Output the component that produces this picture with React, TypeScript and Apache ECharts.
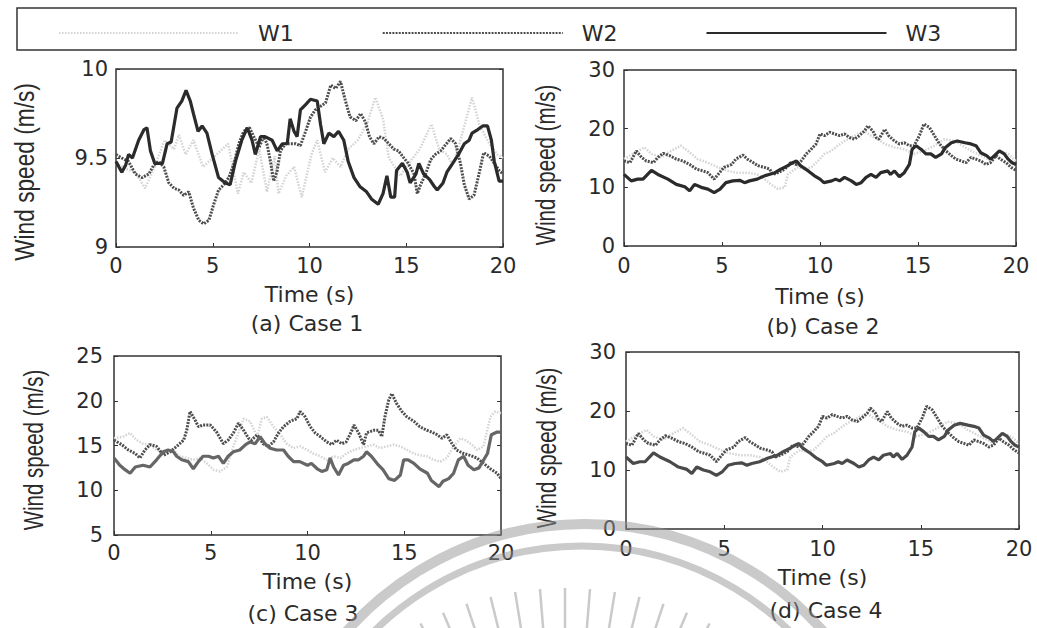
import React, { useEffect, useRef } from "react";
import * as echarts from "echarts";

// ---------- data: [time (s), wind speed (m/s)] ----------
const case1W1: number[][] = [
  [0, 9.47], [0.5, 9.44], [1, 9.42], [1.5, 9.33], [2, 9.45], [2.5, 9.6], [3, 9.55], [3.25, 9.63], [3.6, 9.52],
  [4, 9.6], [4.5, 9.45], [5, 9.5], [5.5, 9.55], [5.8, 9.58], [6.3, 9.3], [6.6, 9.42], [7, 9.36], [7.4, 9.55],
  [7.8, 9.31], [8.2, 9.51], [8.4, 9.3], [8.8, 9.4], [9.2, 9.45], [9.6, 9.28], [10.1, 9.52], [10.4, 9.6],
  [10.8, 9.42], [11.2, 9.5], [11.6, 9.45], [12, 9.55], [12.5, 9.6], [13, 9.7], [13.4, 9.84], [13.8, 9.72],
  [14.1, 9.5], [14.7, 9.4], [15.2, 9.48], [15.7, 9.55], [16.3, 9.69], [16.7, 9.55], [17.1, 9.52], [17.4, 9.46],
  [17.8, 9.6], [18.4, 9.84], [18.8, 9.68], [19.3, 9.58], [19.7, 9.52], [20, 9.5],
];
const case1W2: number[][] = [
  [0, 9.52], [0.3, 9.5], [0.65, 9.48], [1.0, 9.41], [1.35, 9.39], [1.7, 9.41], [1.95, 9.46], [2.2, 9.48],
  [2.47, 9.45], [2.73, 9.36], [3.0, 9.33], [3.25, 9.32], [3.5, 9.29], [3.76, 9.31], [4.0, 9.22], [4.28, 9.15],
  [4.53, 9.13], [4.8, 9.15], [5.05, 9.24], [5.3, 9.32], [5.57, 9.35], [5.83, 9.39], [6.1, 9.47], [6.35, 9.58],
  [6.6, 9.65], [6.9, 9.67], [7.12, 9.62], [7.4, 9.56], [7.63, 9.62], [7.8, 9.58], [8.0, 9.47], [8.15, 9.37],
  [8.33, 9.43], [8.5, 9.54], [8.76, 9.58], [9.0, 9.58], [9.28, 9.58], [9.53, 9.57], [9.8, 9.65], [10.05, 9.73],
  [10.3, 9.77], [10.57, 9.79], [10.83, 9.81], [11.1, 9.91], [11.35, 9.89], [11.6, 9.93], [11.86, 9.82],
  [12.1, 9.73], [12.4, 9.71], [12.64, 9.75], [12.9, 9.7], [13.1, 9.62], [13.33, 9.58], [13.6, 9.62],
  [13.84, 9.61], [14.1, 9.58], [14.36, 9.55], [14.6, 9.54], [14.88, 9.5], [15.1, 9.47], [15.4, 9.41],
  [15.57, 9.3], [15.74, 9.35], [16.0, 9.41], [16.26, 9.49], [16.5, 9.52], [16.78, 9.54], [17.0, 9.57],
  [17.3, 9.61], [17.55, 9.58], [17.8, 9.47], [18.0, 9.35], [18.25, 9.27], [18.5, 9.29], [18.76, 9.41],
  [19.0, 9.53], [19.3, 9.51], [19.55, 9.47], [19.8, 9.43], [20, 9.41],
];
const case1W3: number[][] = [
  [0, 9.48], [0.3, 9.42], [0.5, 9.46], [0.65, 9.52], [0.85, 9.5], [1.17, 9.6], [1.45, 9.66], [1.6, 9.67],
  [1.78, 9.54], [2.0, 9.47], [2.4, 9.47], [2.64, 9.58], [2.85, 9.59], [3.15, 9.78], [3.4, 9.82], [3.62, 9.88],
  [3.84, 9.82], [4.0, 9.75], [4.24, 9.65], [4.45, 9.68], [4.7, 9.64], [4.97, 9.52], [5.3, 9.39], [5.65, 9.36],
  [5.9, 9.35], [6.17, 9.48], [6.5, 9.6], [6.78, 9.67], [7.03, 9.6], [7.2, 9.52], [7.47, 9.62], [7.7, 9.62],
  [8.07, 9.6], [8.33, 9.54], [8.6, 9.58], [8.85, 9.58], [9.0, 9.72], [9.2, 9.65], [9.36, 9.62], [9.53, 9.77],
  [9.8, 9.8], [10.05, 9.83], [10.4, 9.82], [10.57, 9.69], [10.74, 9.58], [11.0, 9.64], [11.26, 9.62],
  [11.5, 9.65], [11.77, 9.6], [12.0, 9.48], [12.3, 9.39], [12.6, 9.34], [12.95, 9.31], [13.2, 9.27],
  [13.55, 9.24], [13.8, 9.3], [14.0, 9.4], [14.2, 9.28], [14.4, 9.28], [14.5, 9.43], [14.8, 9.47],
  [15.05, 9.42], [15.2, 9.36], [15.5, 9.41], [15.65, 9.47], [15.9, 9.41], [16.2, 9.38], [16.45, 9.34],
  [16.6, 9.32], [16.9, 9.36], [17.1, 9.42], [17.4, 9.47], [17.7, 9.52], [18.0, 9.58], [18.25, 9.6],
  [18.4, 9.64], [18.7, 9.66], [18.95, 9.68], [19.2, 9.68], [19.4, 9.6], [19.55, 9.48], [19.8, 9.37], [20, 9.37],
];

const case2W1: number[][] = [
  [0, 14.8], [0.55, 15.9], [1.05, 16.8], [1.4, 15.7], [1.9, 15.1], [2.24, 15.9], [2.9, 17.1], [3.26, 16.2],
  [3.77, 14.8], [4.28, 14.2], [4.8, 13.4], [5.3, 12.8], [5.8, 12.5], [6.3, 12.5], [6.8, 12.2], [7.17, 11.4],
  [7.5, 10.5], [7.85, 9.7], [8.2, 10.0], [8.36, 12.2], [8.6, 12.8], [8.87, 13.4], [9.2, 13.1], [9.55, 13.4],
  [9.9, 14.5], [10.23, 15.7], [10.57, 16.2], [10.9, 17.1], [11.25, 17.9], [11.6, 18.5], [11.93, 19.1],
  [12.27, 19.6], [12.6, 18.8], [12.95, 18.2], [13.3, 17.4], [13.8, 16.8], [14.3, 16.5], [14.8, 15.7],
  [15.3, 16.2], [15.84, 17.1], [16.35, 18.2], [16.9, 17.9], [17.4, 16.8], [17.9, 15.9], [18.4, 15.1],
  [18.7, 14.5], [19.2, 16.2], [19.6, 15.7], [20, 14.5],
];
const case2W2: number[][] = [
  [0, 14.5], [0.3, 14.2], [0.63, 16.2], [0.9, 15.1], [1.14, 14.5], [1.5, 14.2], [1.73, 15.1], [2.0, 15.8],
  [2.33, 15.4], [2.67, 14.8], [3.0, 14.5], [3.35, 13.9], [3.7, 13.1], [4.03, 12.8], [4.28, 12.5], [4.6, 11.4],
  [4.8, 12.2], [5.1, 13.4], [5.5, 13.9], [5.7, 14.8], [6.07, 15.5], [6.3, 14.8], [6.6, 14.2], [6.83, 13.7],
  [7.17, 13.4], [7.43, 13.1], [7.6, 12.2], [7.85, 12.5], [8.2, 13.1], [8.5, 14.2], [8.8, 13.9], [9.04, 14.5],
  [9.3, 15.7], [9.55, 16.5], [9.8, 17.4], [10.0, 19.1], [10.23, 18.8], [10.5, 19.4], [10.74, 19.1],
  [11.0, 18.8], [11.25, 19.1], [11.5, 18.5], [11.76, 18.2], [12.0, 18.8], [12.27, 19.6], [12.44, 20.5],
  [12.7, 19.6], [12.86, 18.5], [13.0, 18.2], [13.3, 19.9], [13.5, 18.8], [13.8, 17.9], [14.05, 17.4],
  [14.3, 17.6], [14.56, 17.1], [14.8, 17.1], [15.07, 18.8], [15.3, 20.8], [15.58, 20.2], [15.84, 18.8],
  [16.1, 17.4], [16.43, 16.2], [16.7, 15.4], [16.94, 14.8], [17.2, 14.5], [17.45, 14.2], [17.7, 15.1],
  [17.96, 14.8], [18.2, 14.5], [18.47, 13.9], [18.7, 14.2], [18.98, 15.4], [19.2, 14.8], [19.5, 14.2],
  [19.75, 13.4], [20, 12.9],
];
const case2W3: number[][] = [
  [0, 12.2], [0.37, 11.1], [0.7, 11.4], [0.97, 11.4], [1.4, 12.9], [1.73, 12.2], [2.24, 11.4], [2.67, 10.5],
  [3.1, 10.1], [3.35, 9.4], [3.6, 10.5], [3.94, 10.0], [4.28, 9.7], [4.6, 9.1], [4.9, 9.7], [5.2, 10.8],
  [5.55, 11.1], [5.9, 11.2], [6.15, 10.8], [6.4, 11.1], [6.8, 11.4], [7.2, 12.0], [7.4, 12.2], [7.7, 12.5],
  [8.0, 13.1], [8.36, 13.7], [8.6, 14.2], [8.8, 14.5], [9.0, 13.7], [9.4, 12.8], [9.7, 12.0], [10.0, 11.4],
  [10.2, 10.8], [10.6, 11.1], [10.8, 11.4], [11.0, 11.1], [11.25, 11.7], [11.6, 11.1], [11.85, 10.5],
  [12.1, 10.8], [12.35, 11.7], [12.6, 12.2], [12.86, 11.7], [13.1, 12.5], [13.46, 12.8], [13.6, 12.2],
  [13.8, 12.8], [14.05, 11.8], [14.3, 12.5], [14.56, 13.9], [14.7, 16.5], [14.9, 17.1], [15.15, 16.5],
  [15.4, 15.7], [15.65, 15.7], [15.9, 15.1], [16.2, 15.7], [16.4, 16.8], [16.7, 17.6], [17.0, 17.9],
  [17.4, 17.6], [17.7, 17.4], [17.96, 17.1], [18.2, 15.9], [18.5, 15.4], [18.7, 14.8], [18.9, 15.4],
  [19.15, 16.2], [19.4, 15.7], [19.6, 14.8], [19.8, 14.2], [20, 13.9],
];

const case3W1: number[][] = [
  [0, 15.8], [0.48, 16.0], [0.83, 16.4], [1.17, 15.6], [1.5, 15.2], [1.86, 15.1], [2.2, 14.5], [2.7, 14.3],
  [3.07, 14.5], [3.4, 13.8], [3.76, 13.6], [4.1, 13.4], [4.45, 13.6], [4.8, 13.0], [5.14, 12.3], [5.48, 12.1],
  [5.83, 12.6], [6.17, 14.9], [6.43, 16.4], [6.7, 18.0], [7.03, 17.7], [7.4, 16.0], [7.64, 18.0], [7.9, 18.2],
  [8.24, 17.1], [8.6, 16.2], [8.93, 15.2], [9.28, 14.7], [9.62, 14.9], [10.0, 14.5], [10.3, 14.1],
  [10.66, 13.8], [11.0, 13.4], [11.35, 13.8], [11.7, 13.6], [12.0, 14.1], [12.4, 14.5], [12.7, 14.7],
  [13.07, 14.9], [13.4, 15.1], [13.76, 14.7], [14.1, 14.9], [14.45, 15.1], [14.8, 14.9], [15.14, 14.5],
  [15.5, 14.1], [15.8, 13.9], [16.17, 13.8], [16.5, 13.4], [16.86, 13.2], [17.2, 13.6], [17.55, 14.9],
  [17.9, 15.8], [18.15, 15.6], [18.5, 15.1], [18.76, 14.5], [19.1, 14.9], [19.45, 18.2], [19.7, 18.8], [20, 18.6],
];
const case3W2: number[][] = [
  [0, 15.6], [0.4, 15.1], [0.74, 14.5], [1.1, 14.1], [1.34, 13.6], [1.6, 14.5], [1.86, 15.1], [2.2, 14.9],
  [2.55, 13.9], [2.9, 14.3], [3.24, 14.9], [3.6, 15.6], [3.76, 16.7], [3.93, 18.8], [4.2, 17.8], [4.36, 17.1],
  [4.6, 17.3], [4.97, 17.3], [5.3, 16.5], [5.65, 15.2], [5.9, 15.6], [6.17, 16.4], [6.43, 17.5], [6.7, 16.7],
  [6.95, 15.8], [7.1, 15.6], [7.4, 16.2], [7.7, 15.2], [7.98, 14.9], [8.24, 15.4], [8.5, 16.4], [8.76, 17.1],
  [9.1, 17.7], [9.45, 18.0], [9.62, 18.8], [9.88, 18.2], [10.14, 17.1], [10.4, 16.4], [10.66, 16.0],
  [11.0, 15.4], [11.26, 15.1], [11.5, 15.6], [11.77, 15.2], [12.0, 15.4], [12.3, 16.7], [12.4, 17.3],
  [12.64, 16.4], [12.9, 15.1], [13.05, 16.4], [13.4, 16.7], [13.67, 16.7], [13.84, 16.0], [14.0, 18.2],
  [14.2, 20.1], [14.36, 20.8], [14.6, 19.7], [14.88, 18.8], [15.14, 18.2], [15.5, 17.7], [15.8, 17.1],
  [16.17, 16.7], [16.43, 16.5], [16.7, 16.2], [16.95, 15.8], [17.2, 16.2], [17.47, 15.2], [17.7, 14.5],
  [18.07, 14.1], [18.4, 13.9], [18.76, 13.6], [19.1, 13.0], [19.45, 12.4], [19.8, 11.9], [20, 11.3],
];
const case3W3: number[][] = [
  [0, 13.6], [0.3, 12.8], [0.57, 12.3], [0.83, 11.9], [1.1, 12.6], [1.5, 12.8], [1.86, 12.6], [2.2, 13.4],
  [2.55, 14.3], [2.8, 14.5], [3.07, 14.3], [3.24, 13.8], [3.5, 13.4], [3.84, 13.2], [4.1, 12.4], [4.36, 13.2],
  [4.6, 13.8], [4.88, 13.8], [5.14, 13.6], [5.4, 13.8], [5.65, 13.0], [5.9, 13.8], [6.17, 14.3], [6.5, 14.5],
  [6.8, 15.1], [7.03, 15.4], [7.3, 15.2], [7.55, 16.0], [7.8, 15.2], [8.07, 14.7], [8.4, 14.5], [8.76, 14.5],
  [9.0, 13.8], [9.28, 13.2], [9.6, 13.2], [10.0, 12.8], [10.2, 13.0], [10.5, 12.4], [10.74, 12.1],
  [11.0, 12.3], [11.17, 13.6], [11.35, 12.6], [11.6, 11.7], [11.86, 12.8], [12.1, 13.0], [12.4, 13.4],
  [12.64, 13.4], [12.9, 13.8], [13.05, 14.3], [13.3, 13.8], [13.67, 12.8], [13.9, 12.3], [14.2, 11.3],
  [14.5, 11.1], [14.8, 11.7], [14.97, 13.4], [15.2, 13.4], [15.5, 13.0], [15.8, 12.4], [16.2, 11.9],
  [16.4, 11.1], [16.8, 10.4], [17.0, 11.0], [17.3, 11.3], [17.55, 11.9], [17.8, 13.4], [18.07, 13.8],
  [18.3, 12.8], [18.6, 12.3], [18.86, 12.5], [19.0, 13.0], [19.3, 14.1], [19.5, 16.2], [19.8, 16.5], [20, 16.5],
];

// Case 4 shows the same records as Case 2
const case4W1 = case2W1;
const case4W2 = case2W2;
const case4W3 = case2W3;

const SERIES_NAMES = ["W1", "W2", "W3"];
const CASE_LABELS = ["(a) Case 1", "(b) Case 2", "(c) Case 3", "(d) Case 4"];
const Y_RANGES = [
  [9, 10, 0.5],
  [0, 30, 10],
  [5, 25, 5],
  [0, 30, 10],
];
const X_RANGE = [0, 20, 5];
const X_TITLE = "Time (s)";
const Y_TITLE = "Wind speed (m/s)";

const CASE_DATA = [
  [case1W1, case1W2, case1W3],
  [case2W1, case2W2, case2W3],
  [case3W1, case3W2, case3W3],
  [case4W1, case4W2, case4W3],
];

// ---------- layout / style ----------
const GRIDS = [
  { left: 116, top: 69, width: 387, height: 178 },
  { left: 624, top: 70, width: 392, height: 176 },
  { left: 114, top: 356, width: 387, height: 179 },
  { left: 626, top: 352, width: 393, height: 177 },
];
const Y_LABEL_MARGIN = [8, 9, 11, 10];
const X_LABEL_MARGIN = [8, 9, 7, 9];
const X_NAME_GAP = [36, 39, 35, 37];
const Y_TITLE_POS = [
  { x: 24, y: 172, s: 0.84 },
  { x: 545, y: 165, s: 0.76 },
  { x: 33, y: 450, s: 0.76 },
  { x: 546, y: 448, s: 0.76 },
];
const CASE_POS = [
  { x: 307, y: 323 },
  { x: 823, y: 326 },
  { x: 303, y: 613 },
  { x: 826, y: 610 },
];
const W3_COLORS = ["#2b2b2b", "#2b2b2b", "#666666", "#4a4a4a"];
const TEXT = "#2a2a2a";
const FONT = "DejaVu Sans";

function buildOption() {
  const lineStyles = [
    { color: "#d3d3d3", width: 2.5, type: [1.5, 1.5] },
    { color: "#4e4e4e", width: 3, type: [2, 1.2] },
    { color: "#2b2b2b", width: 3.2, type: "solid" },
  ];

  const grid = GRIDS.map((g) => ({
    ...g,
    show: true,
    borderColor: "#333",
    borderWidth: 1.5,
    backgroundColor: "transparent",
  }));

  const xAxis = GRIDS.map((_, i) => ({
    type: "value",
    gridIndex: i,
    min: X_RANGE[0],
    max: X_RANGE[1],
    interval: X_RANGE[2],
    name: X_TITLE,
    nameLocation: "middle",
    nameGap: X_NAME_GAP[i],
    nameTextStyle: { fontFamily: FONT, fontSize: 22, color: TEXT },
    axisLine: { show: false },
    axisTick: { inside: true, length: 4, lineStyle: { color: "#333" } },
    axisLabel: { margin: X_LABEL_MARGIN[i], fontFamily: FONT, fontSize: 21, color: TEXT },
    splitLine: { show: false },
  }));

  const yAxis: any[] = [];
  GRIDS.forEach((_, i) => {
    const [mn, mx, iv] = Y_RANGES[i];
    yAxis.push({
      type: "value",
      gridIndex: i,
      min: mn,
      max: mx,
      interval: iv,
      axisLine: { show: false },
      axisTick: { inside: true, length: 4, lineStyle: { color: "#333" } },
      axisLabel: { margin: Y_LABEL_MARGIN[i], fontFamily: FONT, fontSize: 21, color: TEXT },
      splitLine: { show: false },
    });
    yAxis.push({
      type: "value",
      gridIndex: i,
      position: "right",
      min: mn,
      max: mx,
      interval: iv,
      axisLine: { show: false },
      axisTick: { inside: true, length: 4, lineStyle: { color: "#333" } },
      axisLabel: { show: false },
      splitLine: { show: false },
    });
  });

  const series: any[] = [];
  CASE_DATA.forEach((sets, ci) => {
    sets.forEach((data, si) => {
      const ls: any = { ...lineStyles[si] };
      if (si === 2) ls.color = W3_COLORS[ci];
      series.push({
        type: "line",
        name: SERIES_NAMES[si],
        xAxisIndex: ci,
        yAxisIndex: ci * 2,
        data,
        symbol: "none",
        showSymbol: false,
        lineStyle: ls,
        itemStyle: { color: ls.color },
        z: 2 + si,
        silent: true,
      });
    });
  });

  const graphic: any[] = [
    {
      type: "rect",
      shape: { x: 17, y: 8, width: 999, height: 42 },
      style: { fill: "none", stroke: "#333", lineWidth: 1.5 },
    },
  ];
  Y_TITLE_POS.forEach((p) => {
    graphic.push({
      type: "text",
      x: p.x,
      y: p.y,
      rotation: Math.PI / 2,
      scaleX: p.s,
      style: {
        text: Y_TITLE,
        font: '27px "Liberation Sans"',
        fill: TEXT,
        align: "center",
        verticalAlign: "middle",
        textAlign: "center",
        textVerticalAlign: "middle",
      },
    });
  });
  CASE_POS.forEach((p, i) => {
    graphic.push({
      type: "text",
      x: p.x,
      y: p.y,
      style: {
        text: CASE_LABELS[i],
        font: `22px "${FONT}"`,
        fill: TEXT,
        align: "center",
        verticalAlign: "middle",
        textAlign: "center",
        textVerticalAlign: "middle",
      },
    });
  });

  // faint watermark rings and rays at the bottom
  const wm = "rgba(150,150,150,0.5)";
  graphic.push({
    type: "arc",
    shape: { cx: 585, cy: 842, r: 318, startAngle: -2.6, endAngle: -0.55, clockwise: true },
    style: { stroke: wm, lineWidth: 10, fill: "none" },
    z: 100,
    silent: true,
  });
  graphic.push({
    type: "arc",
    shape: { cx: 582, cy: 842, r: 296, startAngle: -2.6, endAngle: -0.55, clockwise: true },
    style: { stroke: wm, lineWidth: 7, fill: "none" },
    z: 100,
    silent: true,
  });
  for (let k = -7; k <= 7; k++) {
    const a = (k * 4.6 * Math.PI) / 180;
    const cx = 565, cy = 900, r1 = 250, r2 = 312;
    graphic.push({
      type: "line",
      shape: {
        x1: cx + r1 * Math.sin(a),
        y1: cy - r1 * Math.cos(a),
        x2: cx + r2 * Math.sin(a),
        y2: cy - r2 * Math.cos(a),
      },
      style: { stroke: wm, lineWidth: 2.5 },
      z: 100,
      silent: true,
    });
  }

  return {
    animation: false,
    backgroundColor: "#ffffff",
    legend: {
      data: SERIES_NAMES,
      left: 53,
      top: 17,
      itemWidth: 180,
      itemHeight: 14,
      itemGap: 88,
      selectedMode: false,
      itemStyle: { opacity: 0, borderWidth: 0 },
      textStyle: { fontFamily: FONT, fontSize: 22, color: TEXT, padding: [0, 0, 0, 14] },
    },
    grid,
    xAxis,
    yAxis,
    series,
    graphic,
  };
}

export default function App() {
  const ref = useRef<HTMLDivElement>(null);
  useEffect(() => {
    if (!ref.current) return;
    const chart = echarts.init(ref.current, null, { renderer: "svg" });
    chart.setOption(buildOption() as any);
    return () => chart.dispose();
  }, []);
  return (
    <div
      ref={ref}
      style={{ position: "fixed", left: 0, top: 0, width: 1037, height: 628, background: "#fff" }}
    />
  );
}
